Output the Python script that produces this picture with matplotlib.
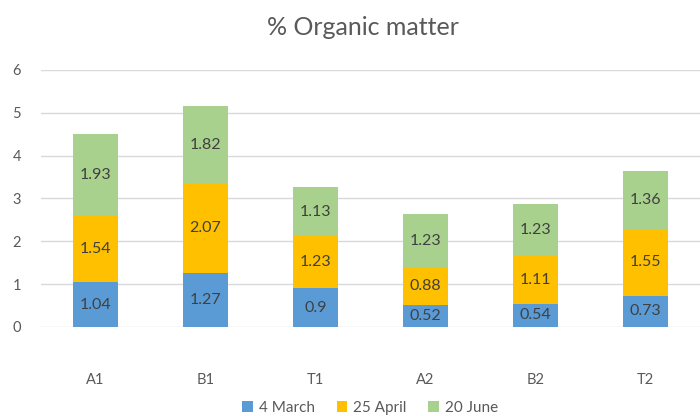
import numpy as np
import matplotlib

matplotlib.use("Agg")
import matplotlib.pyplot as plt

plt.rcParams["font.family"] = ["Lato", "DejaVu Sans"]

# ── data ──
sites = ["A1", "B1", "T1", "A2", "B2", "T2"]
march = [1.04, 1.27, 0.9, 0.52, 0.54, 0.73]
april = [1.54, 2.07, 1.23, 0.88, 1.11, 1.55]
june = [1.93, 1.82, 1.13, 1.23, 1.23, 1.36]
series_names = ["4 March", "25 April", "20 June"]

colors = ["#5B9BD5", "#FFC000", "#A9D18E"]
text_col = "#595959"

fig = plt.figure(figsize=(7, 4.16), dpi=100)
ax = fig.add_axes([0.058, 0.214, 0.942, 0.618])

x = np.arange(len(sites))
bottom = np.zeros(len(sites))
for vals, name, c in zip([march, april, june], series_names, colors):
    bars = ax.bar(x, vals, width=0.41, bottom=bottom, color=c, label=name, zorder=3)
    for b, v in zip(bars, vals):
        ax.text(b.get_x() + b.get_width() / 2, b.get_y() + b.get_height() / 2,
                f"{v:g}", ha="center", va="center", fontsize=11.5, color="#404040", zorder=4)
    bottom += np.array(vals)

ax.set_xlim(-0.5, len(sites) - 0.5)
ax.set_ylim(0, 6)
ax.set_yticks(range(0, 7))
ax.set_xticks(x)
ax.set_xticklabels(sites)
ax.grid(axis="y", color="#D9D9D9", linewidth=1, zorder=0)
for s in ax.spines.values():
    s.set_visible(False)
ax.tick_params(axis="both", length=0, labelsize=10.5, colors=text_col)
ax.tick_params(axis="x", pad=33)
ax.tick_params(axis="y", pad=14)

fig.text(0.518, 0.935, "% Organic matter", ha="center", va="center",
         fontsize=18, color=text_col)

ax.legend(loc="center", bbox_to_anchor=(0.5, -0.315),
          ncol=3, frameon=False, fontsize=11, handlelength=0.7, handleheight=0.7,
          handletextpad=0.4, columnspacing=1.4, labelcolor=text_col)

fig.savefig("out.png", dpi=100)
